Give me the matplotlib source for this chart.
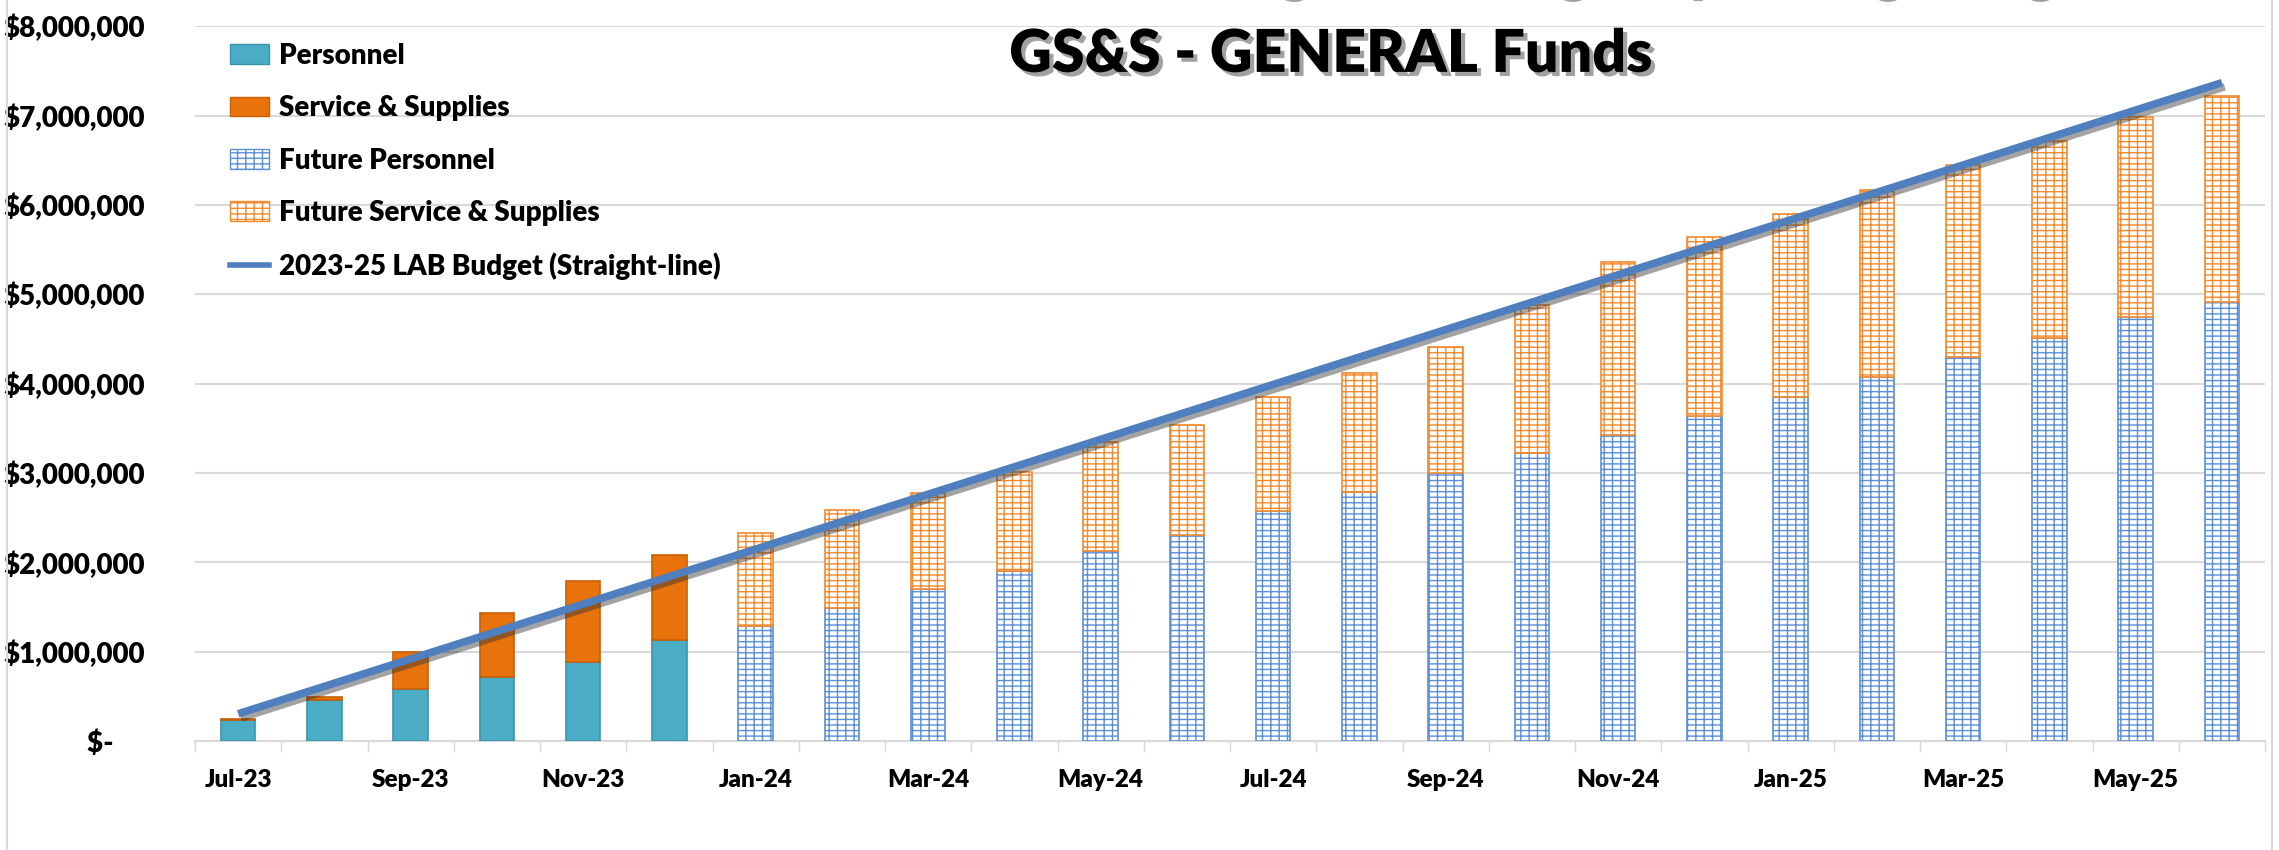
import numpy as np
import matplotlib
matplotlib.use('Agg')
import matplotlib.pyplot as plt
import matplotlib.patheffects as pe
from matplotlib.patches import Patch
from matplotlib.lines import Line2D
from matplotlib.ticker import FuncFormatter

plt.rcParams['font.family'] = ['Lato', 'DejaVu Sans']
plt.rcParams['hatch.linewidth'] = 1.0

# months of the 2023-25 biennium
months = ['Jul-23', 'Aug-23', 'Sep-23', 'Oct-23', 'Nov-23', 'Dec-23',
          'Jan-24', 'Feb-24', 'Mar-24', 'Apr-24', 'May-24', 'Jun-24',
          'Jul-24', 'Aug-24', 'Sep-24', 'Oct-24', 'Nov-24', 'Dec-24',
          'Jan-25', 'Feb-25', 'Mar-25', 'Apr-25', 'May-25', 'Jun-25']

# actual spending (cumulative), Jul-23 .. Dec-23
personnel = [240000, 456000, 585000, 717000, 882000, 1132000]
serv_supp = [14000, 40000, 408000, 720000, 916000, 949000]

# projections, Jan-24 .. Jun-25
fut_personnel = [1285000, 1490000, 1700000, 1910000, 2130000, 2310000,
                 2580000, 2790000, 3005000, 3220000, 3430000, 3640000,
                 3850000, 4080000, 4300000, 4510000, 4750000, 4910000]
fut_serv_supp = [1041000, 1100000, 1080000, 1100000, 1220000, 1230000,
                 1270000, 1330000, 1405000, 1660000, 1930000, 2000000,
                 2050000, 2090000, 2150000, 2210000, 2230000, 2310000]

# LAB budget straight-line, per month
budget = [307000, 614000, 921000, 1228000, 1535000, 1843000,
          2150000, 2457000, 2764000, 3071000, 3378000, 3685000,
          3992000, 4299000, 4606000, 4913000, 5220000, 5528000,
          5835000, 6142000, 6449000, 6756000, 7063000, 7370000]

teal = '#4BACC6'
orange = '#E8720C'
fut_blue = '#5B8FD6'
fut_orange = '#F28A2E'
line_blue = '#4F7FBE'

fig = plt.figure(figsize=(22.79, 8.5), dpi=100)
ax = fig.add_axes([0.0856, 0.128, 0.9083, 0.841])

x = np.arange(len(months))
n_act = len(personnel)
xa = x[:n_act]
xf = x[n_act:]
w = 0.4

ax.bar(xa, personnel, w, color=teal, edgecolor='#3A93AB', linewidth=1.2, zorder=3)
ax.bar(xa, serv_supp, w, bottom=personnel, color=orange, edgecolor='#C85F05',
       linewidth=1.2, zorder=3)

ax.bar(xf, fut_personnel, w, color='white', edgecolor=fut_blue, hatch='---||',
       linewidth=1.2, zorder=3)
ax.bar(xf, fut_serv_supp, w, bottom=fut_personnel, color='white', edgecolor=fut_orange,
       hatch='---||', linewidth=1.2, zorder=3)

ax.plot(x, budget, color=line_blue, linewidth=5.5, solid_capstyle='butt', zorder=4,
        path_effects=[pe.SimpleLineShadow(offset=(2, -3), alpha=0.45, shadow_color='#333333'),
                      pe.Normal()])

ax.set_xlim(-0.5, len(months) - 0.5)
ax.set_ylim(0, 8000000)
ax.set_yticks(np.arange(0, 8000001, 1000000))

def money(v, pos):
    if v == 0:
        return '$-     '
    return '${:,.0f}'.format(v)

ax.yaxis.set_major_formatter(FuncFormatter(money))
ax.set_xticks(x[::2])
ax.set_xticklabels(months[::2])
ax.set_xticks(np.arange(-0.5, len(months), 1), minor=True)
ax.tick_params(axis='x', which='major', length=0, pad=20, labelsize=17.5)
ax.tick_params(axis='x', which='minor', length=8, color='#D9D9D9', width=1)
ax.tick_params(axis='y', length=0, pad=36, labelsize=20)
for lab in ax.get_xticklabels() + ax.get_yticklabels():
    lab.set_fontweight('heavy')

ax.grid(axis='y', color='#D9D9D9', linewidth=1.5, zorder=0)
ax.set_axisbelow(True)
for s in ['top', 'right', 'left']:
    ax.spines[s].set_visible(False)
ax.spines['bottom'].set_color('#D9D9D9')
ax.spines['bottom'].set_linewidth(1.5)

handles = [
    Patch(facecolor=teal, edgecolor='#3A93AB', label='Personnel'),
    Patch(facecolor=orange, edgecolor='#C85F05', label='Service & Supplies'),
    Patch(facecolor='white', edgecolor=fut_blue, hatch='---||', label='Future Personnel'),
    Patch(facecolor='white', edgecolor=fut_orange, hatch='---||', label='Future Service & Supplies'),
    Line2D([0], [0], color=line_blue, linewidth=4, label='2023-25 LAB Budget (Straight-line)'),
]
leg = ax.legend(handles=handles, loc='upper left', bbox_to_anchor=(0.005, 1.012),
                frameon=False, prop={'weight': 'heavy', 'size': 20},
                labelspacing=0.95, handlelength=1.4, handletextpad=0.35)

shadow = [pe.SimplePatchShadow(offset=(3, -3), shadow_rgbFace='#444444', alpha=0.5), pe.Normal()]
fig.text(0.5838, 0.936, 'GS&S - GENERAL Funds', ha='center', va='center',
         fontsize=42.5, fontweight='heavy', path_effects=shadow)
# first title line sits mostly above the cropped top edge
fig.text(0.66, 1.015, 'Biennium Budget vs Budget Spending Budget', ha='center', va='baseline',
         fontsize=42.5, fontweight='heavy', path_effects=shadow)

fig.add_artist(Line2D([0.003, 0.003], [0, 1], color='#D9D9D9', linewidth=1.5))
fig.add_artist(Line2D([0.997, 0.997], [0, 1], color='#D9D9D9', linewidth=1.5))

fig.savefig('out.png', dpi=100)
